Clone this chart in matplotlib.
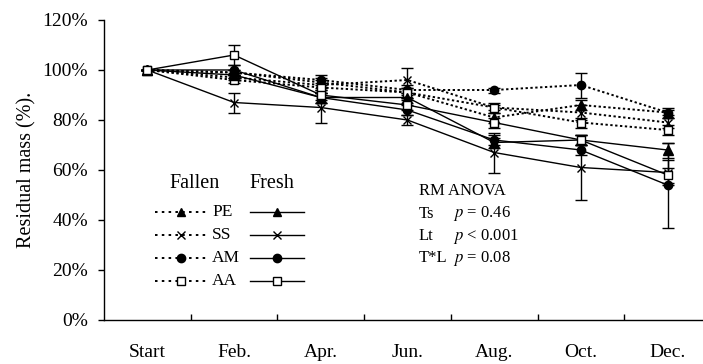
import matplotlib.pyplot as plt
from matplotlib.lines import Line2D
import numpy as np

plt.rcParams['font.family'] = ['Liberation Serif', 'DejaVu Serif']
plt.rcParams['mathtext.fontset'] = 'stix'

# ── data ───────────────────────────────────────────────────────────────
months = ['Start', 'Feb.', 'Apr.', 'Jun.', 'Aug.', 'Oct.', 'Dec.']
species = ['PE', 'SS', 'AM', 'AA']

fallen_pe = [100, 99, 95, 91, 81, 86, 83]
fallen_ss = [100, 97, 94, 96, 85, 83, 79]
fallen_am = [100, 99, 96, 92, 92, 94, 83]
fallen_aa = [100, 96, 93, 91, 85, 79, 76]

fresh_pe = [100, 98, 89, 89, 71, 72, 68]
fresh_ss = [100, 87, 85, 80, 67, 61, 59]
fresh_am = [100, 100, 89, 84, 72, 68, 54]
fresh_aa = [100, 106, 90, 86, 79, 72, 58]

# standard errors
fallen_pe_err = [0, 1, 2, 2, 2, 2, 2]
fallen_ss_err = [0, 1, 2, 5, 2, 3, 2]
fallen_am_err = [0, 1, 2, 2, 1, 5, 1]
fallen_aa_err = [0, 1, 2, 2, 1, 2, 2]
fresh_pe_err = [0, 1, 2, 2, 2, 2, 3]
fresh_ss_err = [0, 4, 6, 2, 8, 13, 5]
fresh_am_err = [0, 2, 2, 2, 2, 2, 17]
fresh_aa_err = [0, 4, 2, 2, 2, 2, 3]

markers = {'PE': '^', 'SS': 'x', 'AM': 'o', 'AA': 's'}

fig = plt.figure(figsize=(7.03, 3.64), dpi=100)
ax = fig.add_axes([104 / 703, 44 / 364, 599 / 703, 300 / 364])

x = np.arange(len(months))
dotted = (0, (1.2, 1.3))


def draw(vals, errs, sp, ls, lw):
    mk = markers[sp]
    face = 'white' if mk == 's' else 'black'
    ax.errorbar(x, vals, yerr=errs, color='black', lw=lw, ls=ls,
                marker=mk, ms=6 if mk != '^' else 6.5, mfc=face, mec='black',
                mew=1.0, ecolor='black', elinewidth=1.0, capsize=4,
                capthick=1.0, zorder=3)


for vals, errs, sp in [(fallen_pe, fallen_pe_err, 'PE'), (fallen_ss, fallen_ss_err, 'SS'),
                       (fallen_am, fallen_am_err, 'AM'), (fallen_aa, fallen_aa_err, 'AA')]:
    draw(vals, errs, sp, dotted, 1.4)
for vals, errs, sp in [(fresh_pe, fresh_pe_err, 'PE'), (fresh_ss, fresh_ss_err, 'SS'),
                       (fresh_am, fresh_am_err, 'AM'), (fresh_aa, fresh_aa_err, 'AA')]:
    draw(vals, errs, sp, '-', 1.0)

ax.set_xlim(-0.5, -0.5 + 599 / 86.7)
ax.set_ylim(0, 120)
ax.set_yticks(np.arange(0, 121, 20))
ax.set_yticklabels([f'{v}%' for v in range(0, 121, 20)])
ax.set_xticks(x)
ax.set_xticklabels(months)
ax.set_xticks(x[:-1] + 0.5, minor=True)
ax.tick_params(axis='x', which='major', length=0, pad=17, labelsize=14)
ax.tick_params(axis='x', which='minor', direction='in', length=4, width=1)
ax.tick_params(axis='y', direction='out', length=4.5, width=1, pad=7, labelsize=14)
ax.set_ylabel('Residual mass (%).', fontsize=14.5, labelpad=4)

for s in ['top', 'right']:
    ax.spines[s].set_visible(False)
for s in ['left', 'bottom']:
    ax.spines[s].set_linewidth(1.0)

# ── hand-drawn legend (axes fraction) ─────────────────────────────────
def fx(px):
    return (px - 104) / 599


def fy(py):
    return (320 - py) / 300


ax.text(fx(195), fy(183), 'Fallen', ha='center', va='center', fontsize=14.5,
        transform=ax.transAxes)
ax.text(fx(272), fy(183), 'Fresh', ha='center', va='center', fontsize=14.5,
        transform=ax.transAxes)
for i, sp in enumerate(species):
    yy = fy(212 + i * 23)
    mk = markers[sp]
    face = 'white' if mk == 's' else 'black'
    ax.add_line(Line2D([fx(155), fx(208)], [yy, yy], ls=(0, (1.3, 2.2)), lw=1.4,
                       color='black', transform=ax.transAxes))
    ax.add_line(Line2D([fx(181)], [yy], marker=mk, ms=6, mfc=face, mec='black',
                       mew=1.0, transform=ax.transAxes, ls='none'))
    ax.text(fx(212), yy, sp, ha='left', va='center', fontsize=12.5,
            transform=ax.transAxes)
    ax.add_line(Line2D([fx(250), fx(304)], [yy, yy], ls='-', lw=1.0,
                       color='black', transform=ax.transAxes))
    ax.add_line(Line2D([fx(277)], [yy], marker=mk, ms=6, mfc=face, mec='black',
                       mew=1.0, transform=ax.transAxes, ls='none'))

# ── statistics box ────────────────────────────────────────────────────
stats = [('RM ANOVA', ''), ('Ts', r'$p$ = 0.46'), ('Lt', r'$p$ < 0.001'),
         ('T*L', r'$p$ = 0.08')]
for i, (a, b) in enumerate(stats):
    yy = fy(191 + i * 22.5)
    ax.text(fx(419), yy, a, ha='left', va='center', fontsize=12,
            transform=ax.transAxes)
    if b:
        ax.text(fx(453), yy, b, ha='left', va='center', fontsize=12,
                transform=ax.transAxes)

fig.savefig('out.png', dpi=100)
